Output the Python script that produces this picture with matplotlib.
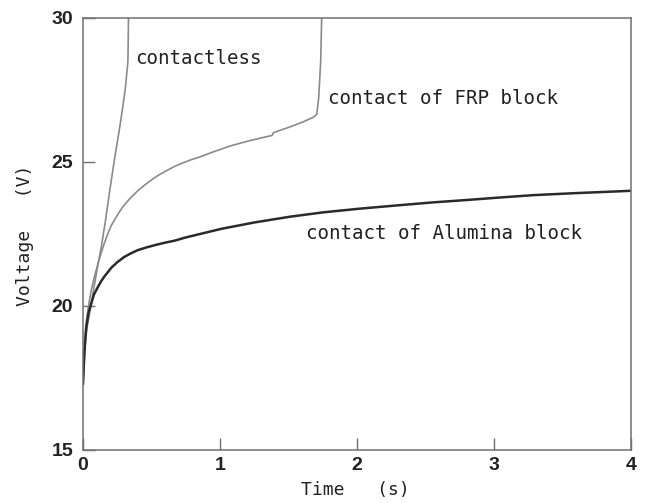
import matplotlib
matplotlib.use("Agg")
import matplotlib.pyplot as plt

# --- data ---
t_contactless = [0, 0.02, 0.061, 0.10, 0.134, 0.165, 0.195, 0.23, 0.268, 0.29, 0.31, 0.328, 0.332]
v_contactless = [17.3, 19.0, 20.1, 21.2, 22.06, 23.0, 24.0, 25.1, 26.2, 26.9, 27.6, 28.5, 30.0]

t_frp = [0, 0.01, 0.02, 0.04, 0.061, 0.085, 0.11, 0.13, 0.15, 0.18, 0.207, 0.24, 0.27,
         0.30, 0.35, 0.40, 0.45, 0.50, 0.55, 0.61, 0.67, 0.73, 0.79, 0.85, 0.95,
         1.07, 1.20, 1.34, 1.38, 1.39, 1.50, 1.60, 1.68, 1.706, 1.72, 1.735, 1.742]
v_frp = [17.3, 18.5, 19.3, 20.0, 20.56, 21.05, 21.48, 21.8, 22.1, 22.5, 22.8, 23.07, 23.3,
         23.5, 23.77, 24.0, 24.2, 24.38, 24.54, 24.7, 24.85, 24.97, 25.08, 25.17, 25.35,
         25.55, 25.72, 25.88, 25.92, 26.02, 26.2, 26.38, 26.55, 26.65, 27.2, 28.5, 30.0]

t_alumina = [0, 0.01, 0.025, 0.04, 0.061, 0.08, 0.11, 0.135, 0.16, 0.207, 0.25, 0.30, 0.35,
             0.40, 0.46, 0.53, 0.60, 0.67, 0.75, 0.854, 1.01, 1.25, 1.51, 1.75, 2.02,
             2.31, 2.56, 2.80, 3.05, 3.29, 3.6, 4.0]
v_alumina = [17.3, 18.4, 19.3, 19.75, 20.1, 20.4, 20.67, 20.88, 21.05, 21.33, 21.52, 21.7, 21.83,
             21.94, 22.03, 22.12, 22.2, 22.27, 22.38, 22.5, 22.68, 22.9, 23.1, 23.25, 23.38,
             23.5, 23.6, 23.68, 23.77, 23.85, 23.92, 24.0]

x_ticks = [0, 1, 2, 3, 4]
y_ticks = [15, 20, 25, 30]

labels = ["contactless", "contact of FRP block", "contact of Alumina block"]
label_pos = [(0.38, 28.6), (1.79, 27.2), (1.63, 22.53)]

fig = plt.figure(figsize=(6.48, 5.03), dpi=100)
ax = fig.add_axes([83/648, 1-450/503, (631-83)/648, (450-18)/503])

ax.plot(t_contactless, v_contactless, color="#8a8a8a", lw=1.2)
ax.plot(t_frp, v_frp, color="#8a8a8a", lw=1.2)
ax.plot(t_alumina, v_alumina, color="#2a2a2a", lw=1.8)

ax.set_xlim(0, 4)
ax.set_ylim(15, 30)
ax.set_xticks(x_ticks)
ax.set_yticks(y_ticks)

tick_font = dict(family=["Liberation Sans", "DejaVu Sans"], weight="bold", size=14)
ax.set_xticklabels([str(v) for v in x_ticks], fontdict=tick_font, color="#222222")
ax.set_yticklabels([str(v) for v in y_ticks], fontdict=tick_font, color="#222222")
ax.tick_params(axis="both", direction="in", length=8.5, width=1.0, color="#707070")
ax.tick_params(axis="x", pad=5)
ax.tick_params(axis="y", pad=7)

for s in ax.spines.values():
    s.set_color("#707070")
    s.set_linewidth(1.1)

mono = ["DejaVu Sans Mono"]
for txt, (x, y) in zip(labels, label_pos):
    ax.text(x, y, txt, family=mono, fontsize=13.8, color="#222222", va="center", ha="left")

fig.text(355/648, 1-490/503, "Time   (s)", family=mono, fontsize=13, color="#222222",
         ha="center", va="center")
fig.text(25/648, 1-235/503, "Voltage   (V)", family=mono, fontsize=13, color="#222222",
         ha="center", va="center", rotation=90)

fig.savefig("out.png", dpi=100)
